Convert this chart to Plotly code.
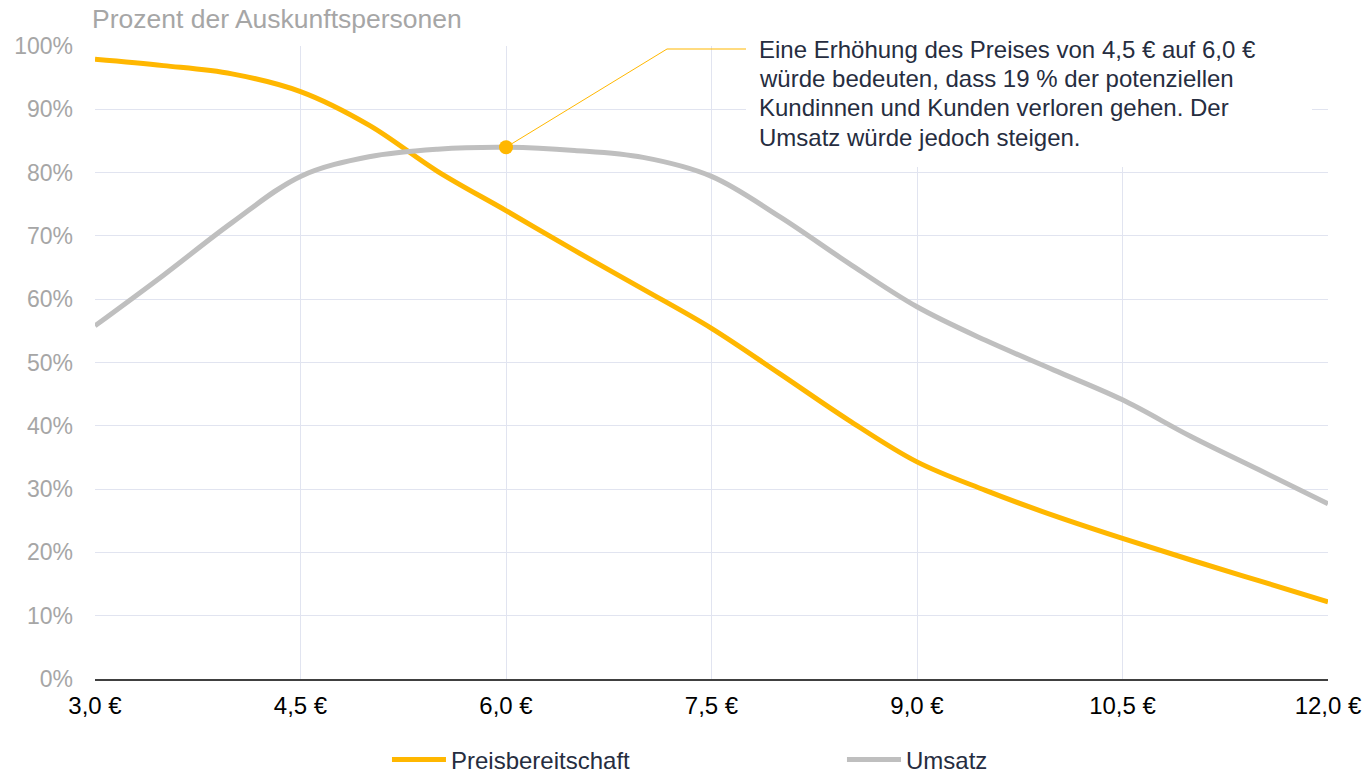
import plotly.graph_objects as go

# Data
prices = [3.0, 3.5, 4.0, 4.5, 5.0, 5.5, 6.0, 6.5, 7.0, 7.5, 8.0, 8.5, 9.0, 9.5, 10.0, 10.5, 11.0, 11.5, 12.0]
preisbereitschaft = [97.9, 96.9, 95.6, 92.8, 87.5, 80.2, 74.0, 67.7, 61.6, 55.4, 48.2, 40.9, 34.3, 29.8, 25.8, 22.2, 18.8, 15.5, 12.2]
umsatz = [55.8, 63.8, 72.1, 79.4, 82.5, 83.7, 84.0, 83.5, 82.4, 79.4, 73.0, 65.7, 58.8, 53.5, 48.8, 44.1, 38.3, 33.0, 27.7]

x_tickvals = [3.0, 4.5, 6.0, 7.5, 9.0, 10.5, 12.0]
x_ticktext = ["3,0 €", "4,5 €", "6,0 €", "7,5 €", "9,0 €", "10,5 €", "12,0 €"]
y_tickvals = [0, 10, 20, 30, 40, 50, 60, 70, 80, 90, 100]
y_ticktext = ["0%", "10%", "20%", "30%", "40%", "50%", "60%", "70%", "80%", "90%", "100%"]

highlight_x = [6.0]
highlight_y = [84.0]

series_names = ["Preisbereitschaft", "Umsatz"]
title_text = "Prozent der Auskunftspersonen"
note_lines = ["Eine Erhöhung des Preises von 4,5 € auf 6,0 €",
              "würde bedeuten, dass 19 % der potenziellen",
              "Kundinnen und Kunden verloren gehen. Der",
              "Umsatz würde jedoch steigen."]

ORANGE = "#FFB700"
GRAY = "#BFBFBF"
GRID = "#E1E4F0"
FONT = "Arial, Liberation Sans, sans-serif"

W, H = 1368, 774
# plot area in window pixels
PL, PR, PT, PB = 95, 1328, 46, 679


def px_to_x(px):
    return 3 + (px - PL) / (PR - PL) * 9


def px_to_y(py):
    return (PB - py) / (PB - PT) * 100


def px_to_paper_y(py):
    return (PB - py) / (PB - PT)


fig = go.Figure()
fig.add_trace(go.Scatter(x=prices, y=preisbereitschaft, mode="lines", name=series_names[0],
                         line=dict(color=ORANGE, width=5, shape="spline", smoothing=1.0)))
fig.add_trace(go.Scatter(x=prices, y=umsatz, mode="lines", name=series_names[1],
                         line=dict(color=GRAY, width=5, shape="spline", smoothing=1.0)))
fig.add_trace(go.Scatter(x=highlight_x, y=highlight_y, mode="markers", showlegend=False,
                         marker=dict(color=ORANGE, size=14), hoverinfo="skip"))

# white background box behind the note (hides gridlines)
fig.add_shape(type="rect", xref="x", yref="paper",
              x0=px_to_x(746), x1=px_to_x(1312),
              y0=px_to_paper_y(167), y1=1.06,
              fillcolor="white", line=dict(width=0), layer="above")

# leader line from highlighted point to note
fig.add_shape(type="path", xref="x", yref="y",
              path=(f"M {highlight_x[0]} {highlight_y[0]} "
                    f"L {px_to_x(667):.4f} {px_to_y(49):.4f} L {px_to_x(746):.4f} {px_to_y(49):.4f}"),
              line=dict(color=ORANGE, width=1), layer="above")

line_centers_px = [50, 79, 108, 137]
for txt, cy in zip(note_lines, line_centers_px):
    fig.add_annotation(x=px_to_x(757), y=px_to_paper_y(cy), xref="x", yref="paper",
                       xanchor="left", yanchor="middle", text=txt, showarrow=False,
                       align="left", font=dict(family=FONT, size=24, color="#262D40"))

fig.add_annotation(x=-0.004, y=1.0, xref="paper", yref="paper", xanchor="left", yanchor="bottom",
                   yshift=10, text=title_text, showarrow=False,
                   font=dict(family=FONT, size=26.5, color="#A6A6A6"))

fig.update_layout(
    width=W, height=H,
    margin=dict(l=PL, r=W - PR, t=PT, b=H - PB, autoexpand=False),
    paper_bgcolor="white", plot_bgcolor="white",
    font=dict(family=FONT, size=24, color="#262D40"),
    showlegend=True,
    legend=dict(orientation="h", x=0.2368, y=-0.128, xanchor="left", yanchor="middle",
                font=dict(family=FONT, size=24, color="#262D40"),
                entrywidth=386, itemwidth=54),
)
fig.update_xaxes(range=[3, 12], tickvals=x_tickvals, ticktext=x_ticktext,
                 showgrid=True, gridcolor=GRID, gridwidth=1, automargin=False,
                 showline=True, linecolor="#404040", linewidth=2,
                 ticks="", ticklabelstandoff=4, zeroline=False,
                 tickfont=dict(family=FONT, size=24, color="#000000"))
fig.update_yaxes(range=[0, 100], tickvals=y_tickvals, ticktext=y_ticktext,
                 showgrid=True, gridcolor=GRID, gridwidth=1, automargin=False,
                 showline=False, zeroline=False, ticks="", ticklabelstandoff=21,
                 tickfont=dict(family=FONT, size=23, color="#A6A6A6"))

fig.write_html("out.html", config={"displayModeBar": False},
               post_script="document.body.style.margin='0';")
